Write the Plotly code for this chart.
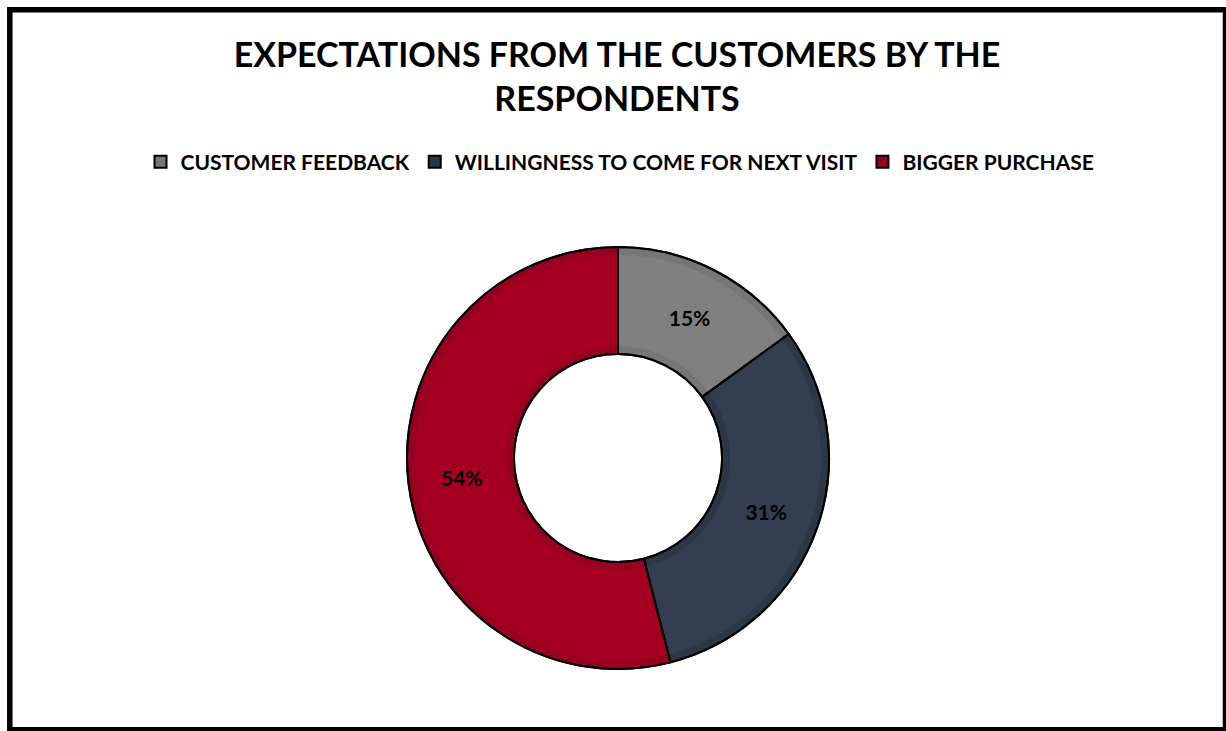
import plotly.graph_objects as go

# Survey responses: what respondents expect from their customers
categories = ["CUSTOMER FEEDBACK", "WILLINGNESS TO COME FOR NEXT VISIT", "BIGGER PURCHASE"]
shares = [15, 31, 54]

main_colors = ["#808080", "#333F50", "#A50021"]
edge_colors = ["#767676", "#2C3746", "#970020"]

W, H = 1226, 731
CX, CY = 618, 458          # ring centre, px
R_OUT, R_IN = 211, 104     # ring radii, px
INSET = 8                  # width of the darker edge band, px


def domain(radius):
    return dict(
        x=[(CX - radius) / W, (CX + radius) / W],
        y=[1 - (CY + radius) / H, 1 - (CY - radius) / H],
    )


font_family = "Lato, 'Open Sans', sans-serif"

fig = go.Figure()

# base ring: darker edge tone, also provides the legend swatches
fig.add_trace(go.Pie(
    labels=categories, values=shares, sort=False, direction="clockwise", rotation=0,
    hole=R_IN / R_OUT, domain=domain(R_OUT),
    marker=dict(colors=edge_colors, line=dict(color="#000000", width=2)),
    textinfo="none", hoverinfo="label+percent", showlegend=True,
))

# inner fill: main colours, inset from the outer and inner rims
r2 = R_OUT - INSET
fig.add_trace(go.Pie(
    labels=categories, values=shares, sort=False, direction="clockwise", rotation=0,
    hole=(R_IN + INSET) / r2, domain=domain(r2),
    marker=dict(colors=main_colors, line=dict(width=0)),
    textinfo="none", hoverinfo="skip", showlegend=False,
))

# outline and percentage labels on top
fig.add_trace(go.Pie(
    labels=categories, values=shares, sort=False, direction="clockwise", rotation=0,
    hole=R_IN / R_OUT, domain=domain(R_OUT),
    marker=dict(colors=["rgba(0,0,0,0)"] * 3, line=dict(color="#000000", width=2)),
    texttemplate="%{percent:.0%}", textposition="inside", insidetextorientation="horizontal",
    textfont=dict(family=font_family, size=21, color="#000000", weight="bold"),
    hoverinfo="skip", showlegend=False,
))

fig.update_layout(
    width=W, height=H,
    margin=dict(l=0, r=0, t=0, b=0),
    paper_bgcolor="#FFFFFF",
    plot_bgcolor="#FFFFFF",
    title=dict(
        text="EXPECTATIONS FROM THE CUSTOMERS BY THE<br>RESPONDENTS",
        x=617 / W, xanchor="center", xref="paper",
        y=1 - 67 / H, yanchor="top", yref="container",
        font=dict(family=font_family, size=34, color="#000000", weight="bold"),
    ),
    legend=dict(
        orientation="h",
        x=620 / W, xanchor="center",
        y=1 - 162 / H, yanchor="middle",
        font=dict(family=font_family, size=21, color="#000000", weight="bold"),
        itemclick=False, itemdoubleclick=False,
        traceorder="normal",
    ),
    shapes=[dict(
        type="rect", xref="paper", yref="paper",
        x0=9.8 / W, x1=1225.5 / W, y0=1 - 729.8 / H, y1=1 - 9.8 / H,
        line=dict(color="#000000", width=5.5), fillcolor="rgba(0,0,0,0)",
    )],
)

fig.write_html("out.html")
